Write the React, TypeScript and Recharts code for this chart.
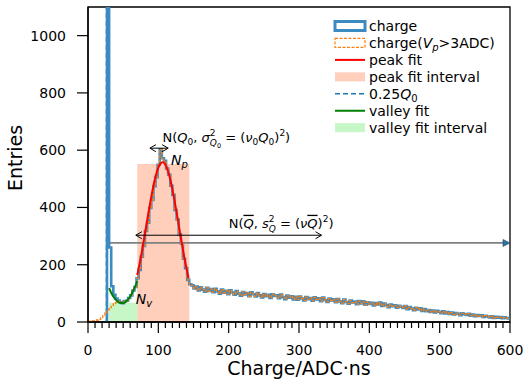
import React from 'react';
import {
  ComposedChart,
  Line,
  XAxis,
  YAxis,
  ReferenceArea,
  ReferenceLine,
  ReferenceDot,
  Legend,
} from 'recharts';

// ---------- data ----------
const BIN_WIDTH = 3; // ADC·ns per histogram bin
// "charge" histogram, low region (bins starting at 0,3,...,42); null = nothing drawn
const chargeLowCounts = [null, null, null, null, null, null, null, null, 0, 3000, 260, 125, 95, 82, 75];
// "charge(Vp>3ADC)" histogram, low region (bins starting at 0,3,...,42)
const chargeVpLowCounts = [2, 3, 4, 5, 7, 9, 15, 22, 32, 42, 50, 58, 64, 68, 72];
// shared counts of both histograms, bins starting at 45 ... 144
const peakCounts = [
  70, 66, 73, 74, 84, 93, 110, 122, 153, 182,
  228, 266, 318, 347, 398, 426, 474, 506, 549, 603,
  572, 563, 536, 514, 476, 444, 391, 358, 306, 274,
  221, 188, 147, 132,
];
// shared counts of both histograms, bins starting at 147 ... 597
const tailCounts = [
  128, 117, 124, 110, 121, 113, 106, 119, 108, 115,
  104, 116, 107, 99, 113, 102, 109, 97, 111, 103,
  95, 108, 99, 92, 105, 96, 101, 90, 104, 97,
  89, 101, 93, 86, 98, 90, 95, 84, 97, 91,
  93, 83, 96, 87, 80, 92, 85, 90, 79, 88,
  78, 89, 82, 75, 87, 80, 84, 74, 86, 79,
  83, 73, 85, 77, 70, 82, 75, 79, 69, 80,
  72, 66, 78, 70, 64, 75, 68, 71, 62, 73,
  65, 72, 60, 69, 63, 67, 58, 66, 61, 68,
  56, 64, 59, 52, 61, 55, 58, 50, 57, 53,
  49, 56, 45, 52, 47, 41, 50, 44, 48, 39,
  45, 38, 42, 35, 40, 33, 39, 36, 31, 37,
  30, 35, 28, 33, 26, 31, 29, 24, 30, 27,
  25, 29, 22, 26, 20, 24, 21, 23, 18, 22,
  19, 16, 20, 14, 18, 15, 17, 13, 16, 14,
  12,
];
// peak fit (gaussian)
const peakFitX = [70, 75, 80, 85, 90, 95, 100, 103, 106, 109, 112, 117, 122, 127, 132, 137, 143];
const peakFitY = [164, 225, 295, 368, 438, 498, 539, 553, 558, 553, 539, 498, 438, 368, 295, 225, 153];
// valley fit (parabola)
const valleyFitX = [30, 33, 36, 39, 42, 45, 48, 51, 54, 57, 60, 63, 66, 69, 70];
const valleyFitY = [118, 102, 89, 79, 72, 67, 66, 67, 72, 79, 89, 102, 118, 136, 143];
// intervals and markers
const peakInterval = [70, 144];
const peakIntervalHeight = 552;
const valleyInterval = [30, 70];
const valleyIntervalHeight = 67;
const quarterQ0 = 26.3;
const meanLineY = 276;
const meanLineStart = 29;
const q0Arrow = [88, 114];
const q0ArrowY = 607;
const meanArrow = [68, 332];
const meanArrowY = 303;

const xTicks = Array.from({ length: 61 }, (_, i) => i * 10);
const yTicks = [0, 200, 400, 600, 800, 1000];
const X_MAX = 600;
const Y_MAX = 1100;

// ---------- tables ----------
const sharedCounts = [...peakCounts, ...tailCounts];
const buildHist = (low: (number | null)[]) => {
  const counts = [...low, ...sharedCounts];
  const rows = counts.map((v, i) => ({ x: i * BIN_WIDTH, v }));
  rows.push({ x: X_MAX, v: counts[counts.length - 1] });
  return rows;
};
const chargeData = buildHist(chargeLowCounts);
const chargeVpData = buildHist(chargeVpLowCounts);
const peakFitData = peakFitX.map((x, i) => ({ x, v: peakFitY[i] }));
const valleyFitData = valleyFitX.map((x, i) => ({ x, v: valleyFitY[i] }));

// ---------- styles ----------
const FONT = 'DejaVu Sans';
const BLUE = '#3b8bc2';
const ORANGE = '#ff7f0e';
const RED = '#ff0000';
const GREEN = '#008000';
const SALMON = '#ffa07a';
const LIGHTGREEN = '#90ee90';
const TICK_FONT = 14;

const XTick = (props: any) => {
  const { x, y, payload } = props;
  const v = payload.value;
  const major = v % 100 === 0;
  return (
    <g>
      <line x1={x} x2={x} y1={y} y2={y + (major ? 11 : 6)} stroke="#000" strokeWidth={1.2} />
      {major && (
        <text x={x} y={y + 33} textAnchor="middle" fontSize={TICK_FONT} fontFamily={FONT} fill="#000">
          {v}
        </text>
      )}
    </g>
  );
};

const YTick = (props: any) => {
  const { x, y, payload } = props;
  return (
    <g>
      <line x1={x - 11} x2={x} y1={y} y2={y} stroke="#000" strokeWidth={1.2} />
      <text x={x - 22} y={y + 5} textAnchor="end" fontSize={TICK_FONT} fontFamily={FONT} fill="#000">
        {payload.value}
      </text>
    </g>
  );
};

const DoubleArrow = (props: any) => {
  const { x1, y1, x2, y2 } = props;
  const h = 6;
  const w = 3.5;
  return (
    <g stroke="#000" strokeWidth={1} fill="none">
      <line x1={x1} y1={y1} x2={x2} y2={y2} />
      <polyline points={`${x1 + h},${y1 - w} ${x1},${y1} ${x1 + h},${y1 + w}`} />
      <polyline points={`${x2 - h},${y2 - w} ${x2},${y2} ${x2 - h},${y2 + w}`} />
    </g>
  );
};

const GrayArrow = (props: any) => {
  const { x1, y1, x2, y2 } = props;
  return (
    <g>
      <line x1={x1} y1={y1} x2={x2 - 4} y2={y2} stroke="#808080" strokeWidth={1.8} />
      <polygon
        points={`${x2 - 7},${y2 - 3.5} ${x2},${y2} ${x2 - 7},${y2 + 3.5}`}
        fill="#1f77b4"
        stroke="#404040"
        strokeWidth={0.6}
      />
    </g>
  );
};

const Q0Text = (props: any) => {
  const { cx, cy } = props;
  return (
    <text x={cx} y={cy} fontSize={13} fontFamily={FONT} fill="#000">
      N(<tspan fontStyle="italic">Q</tspan>
      <tspan fontSize={9} dy={3}>0</tspan>
      <tspan dy={-3}>, </tspan>
      <tspan fontStyle="italic">σ</tspan>
      <tspan fontSize={9} dy={-6}>2</tspan>
      <tspan fontSize={9} fontStyle="italic" dx={-5.7} dy={10}>Q</tspan>
      <tspan fontSize={6.5} dy={2}>0</tspan>
      <tspan dy={-6}> = (</tspan>
      <tspan fontStyle="italic">ν</tspan>
      <tspan fontSize={9} dy={3}>0</tspan>
      <tspan fontStyle="italic" dy={-3}>Q</tspan>
      <tspan fontSize={9} dy={3}>0</tspan>
      <tspan dy={-3}>)</tspan>
      <tspan fontSize={9} dy={-6}>2</tspan>
      <tspan dy={6}>)</tspan>
    </text>
  );
};

const MeanText = (props: any) => {
  const { cx, cy } = props;
  return (
    <text x={cx} y={cy} fontSize={13} fontFamily={FONT} fill="#000">
      N(<tspan fontStyle="italic" style={{ textDecoration: 'overline' }}>Q</tspan>
      <tspan>, </tspan>
      <tspan fontStyle="italic">s</tspan>
      <tspan fontSize={9} dy={-6}>2</tspan>
      <tspan fontSize={9} fontStyle="italic" dx={-5.7} dy={10}>Q</tspan>
      <tspan dy={-4}> = (</tspan>
      <tspan fontStyle="italic">ν</tspan>
      <tspan fontStyle="italic" style={{ textDecoration: 'overline' }}>Q</tspan>
      <tspan>)</tspan>
      <tspan fontSize={9} dy={-6}>2</tspan>
      <tspan dy={6}>)</tspan>
    </text>
  );
};

const NLabel = (sub: string) => (props: any) => {
  const { cx, cy } = props;
  return (
    <text x={cx} y={cy} fontSize={14} fontFamily={FONT} fill="#000" fontStyle="italic">
      N<tspan fontSize={10} dy={3}>{sub}</tspan>
    </text>
  );
};

const legendRows = [
  { key: 'charge', kind: 'histo' },
  { key: 'chargeVp', kind: 'histoDashed' },
  { key: 'peakFit', kind: 'line', color: RED },
  { key: 'peakInterval', kind: 'patch', color: SALMON },
  { key: 'quarter', kind: 'dashed', color: '#1f77b4' },
  { key: 'valleyFit', kind: 'line', color: GREEN },
  { key: 'valleyInterval', kind: 'patch', color: LIGHTGREEN },
];

const legendLabel = (key: string) => {
  switch (key) {
    case 'charge':
      return 'charge';
    case 'chargeVp':
      return (
        <>
          charge(<tspan fontStyle="italic">V</tspan>
          <tspan fontSize={10} fontStyle="italic" dy={3}>p</tspan>
          <tspan dy={-3}>&gt;3ADC)</tspan>
        </>
      );
    case 'peakFit':
      return 'peak fit';
    case 'peakInterval':
      return 'peak fit interval';
    case 'quarter':
      return (
        <>
          0.25<tspan fontStyle="italic">Q</tspan>
          <tspan fontSize={10} dy={3}>0</tspan>
        </>
      );
    case 'valleyFit':
      return 'valley fit';
    default:
      return 'valley fit interval';
  }
};

const renderLegend = () => (
  <svg width={185} height={125} style={{ display: 'block' }}>
    {legendRows.map((r, i) => {
      const cy = 11 + i * 16.95;
      let handle: React.ReactNode = null;
      if (r.kind === 'histo')
        handle = <rect x={2} y={cy - 4.5} width={30} height={9} fill="#fff" stroke={BLUE} strokeWidth={3} />;
      else if (r.kind === 'histoDashed')
        handle = (
          <rect x={2} y={cy - 4.5} width={30} height={9} fill="none" stroke={ORANGE} strokeWidth={1.2} strokeDasharray="3 1.5" />
        );
      else if (r.kind === 'line')
        handle = <line x1={2} x2={32} y1={cy} y2={cy} stroke={r.color} strokeWidth={2} />;
      else if (r.kind === 'dashed')
        handle = <line x1={2} x2={32} y1={cy} y2={cy} stroke={r.color} strokeWidth={1.5} strokeDasharray="5 3" />;
      else
        handle = <rect x={2} y={cy - 4.5} width={30} height={9} fill={r.color} fillOpacity={0.5} />;
      return (
        <g key={r.key}>
          {handle}
          <text x={36} y={cy + 5} fontSize={14} fontFamily={FONT} fill="#000">
            {legendLabel(r.key)}
          </text>
        </g>
      );
    })}
  </svg>
);

export default function App() {
  return (
    <div style={{ position: 'absolute', left: 0, top: 0, width: 523, height: 379, background: '#fff' }}>
      <ComposedChart width={523} height={379} margin={{ top: 7, right: 13, bottom: 0, left: 0 }}>
        <XAxis
          dataKey="x"
          type="number"
          domain={[0, X_MAX]}
          allowDataOverflow
          ticks={xTicks}
          interval={0}
          height={57}
          tickSize={0}
          tickMargin={0}
          tickLine={false}
          tick={<XTick />}
          axisLine={{ stroke: '#000', strokeWidth: 1.3 }}
          label={(p: any) => (
            <text x={299} y={375} textAnchor="middle" fontSize={19} fontFamily={FONT} fill="#000">
              Charge/ADC·ns
            </text>
          )}
        />
        <YAxis
          type="number"
          domain={[0, Y_MAX]}
          allowDataOverflow
          ticks={yTicks}
          interval={0}
          width={88}
          tickSize={0}
          tickMargin={0}
          tickLine={false}
          tick={<YTick />}
          axisLine={{ stroke: '#000', strokeWidth: 1.3 }}
          label={(p: any) => (
            <text
              x={22}
              y={158}
              textAnchor="middle"
              fontSize={19}
              fontFamily={FONT}
              fill="#000"
              transform="rotate(-90 22 158)"
            >
              Entries
            </text>
          )}
        />
        <ReferenceArea
          x1={peakInterval[0]}
          x2={peakInterval[1]}
          y1={0}
          y2={peakIntervalHeight}
          fill={SALMON}
          fillOpacity={0.5}
          stroke="none"
        />
        <ReferenceArea
          x1={valleyInterval[0]}
          x2={valleyInterval[1]}
          y1={0}
          y2={valleyIntervalHeight}
          fill={LIGHTGREEN}
          fillOpacity={0.5}
          stroke="none"
        />
        <ReferenceLine x={quarterQ0} stroke="#1f77b4" strokeWidth={1.5} strokeDasharray="5 3" />
        <ReferenceLine
          segment={[
            { x: meanLineStart, y: meanLineY },
            { x: X_MAX, y: meanLineY },
          ]}
          shape={<GrayArrow />}
        />
        <Line
          data={chargeData}
          dataKey="v"
          type="stepAfter"
          stroke={BLUE}
          strokeWidth={2.6}
          dot={false}
          activeDot={false}
          isAnimationActive={false}
        />
        <Line
          data={chargeVpData}
          dataKey="v"
          type="stepAfter"
          stroke={ORANGE}
          strokeWidth={1.3}
          strokeDasharray="3 1.5"
          dot={false}
          activeDot={false}
          isAnimationActive={false}
        />
        <Line
          data={peakFitData}
          dataKey="v"
          type="monotone"
          stroke={RED}
          strokeWidth={2}
          dot={false}
          activeDot={false}
          isAnimationActive={false}
        />
        <Line
          data={valleyFitData}
          dataKey="v"
          type="monotone"
          stroke={GREEN}
          strokeWidth={2}
          dot={false}
          activeDot={false}
          isAnimationActive={false}
        />
        <ReferenceLine
          segment={[
            { x: q0Arrow[0], y: q0ArrowY },
            { x: q0Arrow[1], y: q0ArrowY },
          ]}
          shape={<DoubleArrow />}
        />
        <ReferenceLine
          segment={[
            { x: meanArrow[0], y: meanArrowY },
            { x: meanArrow[1], y: meanArrowY },
          ]}
          shape={<DoubleArrow />}
        />
        <ReferenceDot x={106} y={628} shape={<Q0Text />} />
        <ReferenceDot x={200} y={329} shape={<MeanText />} />
        <ReferenceDot x={118} y={548} shape={NLabel('p')} />
        <ReferenceDot x={68} y={63} shape={NLabel('v')} />
        <ReferenceArea x1={0} x2={X_MAX} y1={0} y2={Y_MAX} fill="none" stroke="#000" strokeWidth={1.3} />
        <Legend
          layout="vertical"
          align="center"
          verticalAlign="middle"
          content={renderLegend}
          wrapperStyle={{ position: 'absolute', left: 333, top: 15, width: 185, height: 125 }}
        />
      </ComposedChart>
    </div>
  );
}
